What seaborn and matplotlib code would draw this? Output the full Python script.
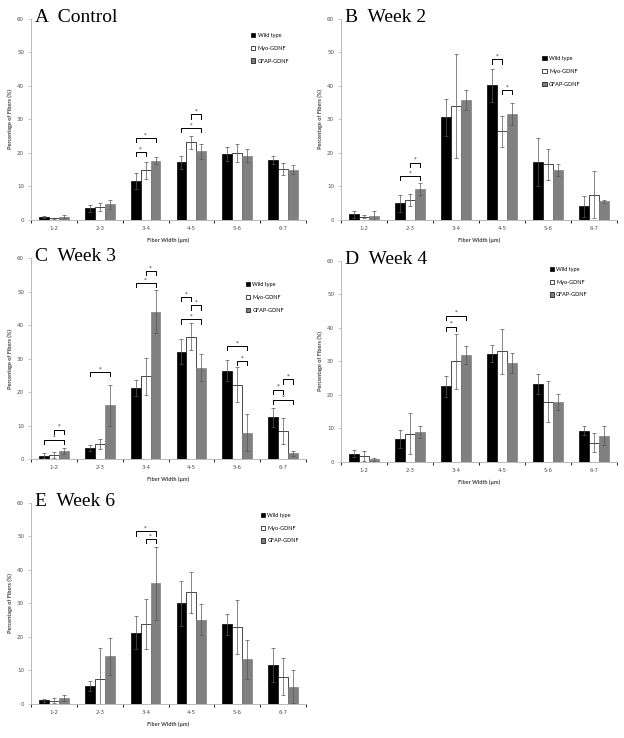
import numpy as np
import pandas as pd
import matplotlib
matplotlib.use('Agg')
import matplotlib.pyplot as plt
import seaborn as sns

widths = ['1-2', '2-3', '3-4', '4-5', '5-6', '6-7']
groups = ['Wild type', 'Myo-GDNF', 'GFAP-GDNF']
colors = ['black', 'white', '#808080']

# rows: Wild type, Myo-GDNF, GFAP-GDNF
a_mean = [[0.8, 3.5, 11.7, 17.2, 19.8, 17.9],
          [0.5, 3.8, 14.8, 23.2, 20.0, 15.2],
          [1.0, 4.7, 17.7, 20.5, 19.2, 15.0]]
a_err = [[0.3, 1.0, 2.3, 2.0, 2.1, 1.3],
         [0.2, 1.2, 2.5, 2.0, 2.8, 1.8],
         [0.5, 1.4, 1.1, 2.3, 2.0, 1.3]]
# (width index, series i, series j, bracket height)
a_sig = [(2, 0, 1, 20.3), (2, 0, 2, 24.5), (3, 0, 2, 27.5), (3, 1, 2, 31.5)]

b_mean = [[1.7, 5.0, 30.6, 40.2, 17.3, 4.1],
          [1.0, 6.0, 34.0, 26.5, 16.6, 7.5],
          [1.3, 9.3, 35.8, 31.7, 14.9, 5.6]]
b_err = [[1.1, 2.5, 5.5, 5.0, 7.3, 3.2],
         [0.4, 1.7, 15.5, 4.6, 4.7, 7.0],
         [1.4, 1.8, 3.0, 3.3, 1.8, 0.5]]
b_sig = [(1, 0, 2, 13.1), (1, 1, 2, 17.1), (3, 0, 1, 48.0), (3, 1, 2, 38.8)]

c_mean = [[1.0, 3.3, 21.2, 32.0, 26.4, 12.4],
          [1.2, 4.5, 24.7, 36.5, 22.2, 8.4],
          [2.4, 16.0, 44.0, 27.2, 7.9, 1.7]]
c_err = [[0.7, 0.8, 2.5, 3.7, 3.1, 2.8],
         [0.8, 1.5, 5.6, 4.0, 5.3, 3.9],
         [0.8, 6.0, 6.4, 4.0, 5.5, 0.8]]
c_sig = [(0, 0, 2, 5.7), (0, 1, 2, 8.8), (1, 0, 2, 26.0), (2, 0, 2, 52.6),
         (2, 1, 2, 56.1), (3, 0, 2, 41.7), (3, 1, 2, 45.9), (3, 0, 1, 48.4),
         (4, 0, 2, 33.7), (4, 1, 2, 29.3), (5, 0, 2, 17.6), (5, 0, 1, 20.7),
         (5, 1, 2, 23.8)]

d_mean = [[2.5, 6.8, 22.6, 32.3, 23.2, 9.3],
          [1.8, 8.5, 30.0, 33.0, 18.0, 5.8],
          [0.8, 8.9, 32.0, 29.6, 17.8, 7.8]]
d_err = [[1.0, 2.7, 3.2, 2.5, 3.0, 1.3],
         [1.5, 6.2, 8.2, 6.7, 6.2, 2.8],
         [0.5, 1.8, 2.7, 3.0, 2.4, 2.8]]
d_sig = [(2, 0, 1, 40.4), (2, 0, 2, 43.7)]

e_mean = [[1.1, 5.4, 21.3, 30.0, 23.8, 11.6],
          [1.0, 7.5, 23.8, 33.3, 22.9, 8.2],
          [1.8, 14.2, 36.0, 25.2, 13.3, 5.2]]
e_err = [[0.5, 1.5, 5.0, 6.8, 3.2, 5.1],
         [0.8, 9.1, 7.4, 6.0, 8.0, 5.4],
         [0.9, 5.5, 10.8, 4.5, 5.7, 5.0]]
e_sig = [(2, 1, 2, 49.2), (2, 0, 2, 51.5)]

fig = plt.figure(figsize=(6.24, 7.38), dpi=100)
lab = dict(fontsize=4, fontweight='bold', color='#404040', family='Lato')


def panel(rect, title, mean, err, sig, leg_xy):
    ax = fig.add_axes(rect)
    df = pd.DataFrame({'width': widths * 3,
                       'group': np.repeat(groups, len(widths)),
                       'pct': np.ravel(mean)})
    sns.barplot(data=df, x='width', y='pct', hue='group', hue_order=groups,
                palette=colors, width=0.65, gap=0, errorbar=None,
                edgecolor='black', linewidth=0.5, ax=ax)
    bars = list(ax.containers)
    for p in bars[2]:
        p.set_edgecolor('#808080')
    for k, cont in enumerate(bars):
        xs = [p.get_x() + p.get_width() / 2 for p in cont]
        ax.errorbar(xs, mean[k], yerr=err[k], fmt='none', ecolor='#555555',
                    elinewidth=0.5, capsize=1.3, capthick=0.5)
    for g, i, j, y in sig:
        x1 = bars[i][g].get_x() + bars[i][g].get_width() / 2
        x2 = bars[j][g].get_x() + bars[j][g].get_width() / 2
        ax.plot([x1, x1, x2, x2], [y - 1.3, y, y, y - 1.3], color='black', lw=0.7)
        ax.text((x1 + x2) / 2, y + 0.2, '*', ha='center', va='bottom',
                fontsize=4, color='#303030')

    ax.set_ylim(0, 60)
    ax.set_xlim(-0.5, 5.5)
    ax.set_yticks(range(0, 61, 10))
    ax.set_xticks(np.arange(-0.5, 6, 1), minor=True)
    for s in ['top', 'right']:
        ax.spines[s].set_visible(False)
    for s in ['left', 'bottom']:
        ax.spines[s].set_color('#b0b0b0')
        ax.spines[s].set_linewidth(0.6)
    ax.tick_params(axis='both', labelsize=4, labelcolor='#505050', color='#b0b0b0', width=0.5)
    ax.tick_params(axis='y', length=2, pad=3)
    ax.tick_params(axis='x', which='major', length=0, pad=4)
    ax.tick_params(axis='x', which='minor', length=2)
    ax.set_xlabel('Fiber Width (μm)', labelpad=5, **lab)
    ax.set_ylabel('Percentage of Fibers (%)', labelpad=3, **lab)
    ax.text(0.015, 0.987, title, transform=ax.transAxes, va='baseline',
            family='Liberation Serif', fontsize=14)
    sns.move_legend(ax, 'upper left', bbox_to_anchor=leg_xy, frameon=False,
                    title=None, labelspacing=1.4, borderpad=0,
                    handlelength=0.8, handleheight=0.8, handletextpad=0.4,
                    prop={'family': 'Lato', 'size': 4})
    return ax


panel([0.0497, 0.7019, 0.4407, 0.2724], 'A  Control', a_mean, a_err, a_sig, (0.79, 0.945))
panel([0.5465, 0.7019, 0.4420, 0.2724], 'B  Week 2', b_mean, b_err, b_sig, (0.72, 0.83))
panel([0.0497, 0.3780, 0.4407, 0.2724], 'C  Week 3', c_mean, c_err, c_sig, (0.771, 0.895))
panel([0.5465, 0.3740, 0.4420, 0.2724], 'D  Week 4', d_mean, d_err, d_sig, (0.746, 0.985))
panel([0.0497, 0.0461, 0.4407, 0.2724], 'E  Week 6', e_mean, e_err, e_sig, (0.825, 0.965))

fig.savefig('out.png', dpi=100, facecolor='white')
